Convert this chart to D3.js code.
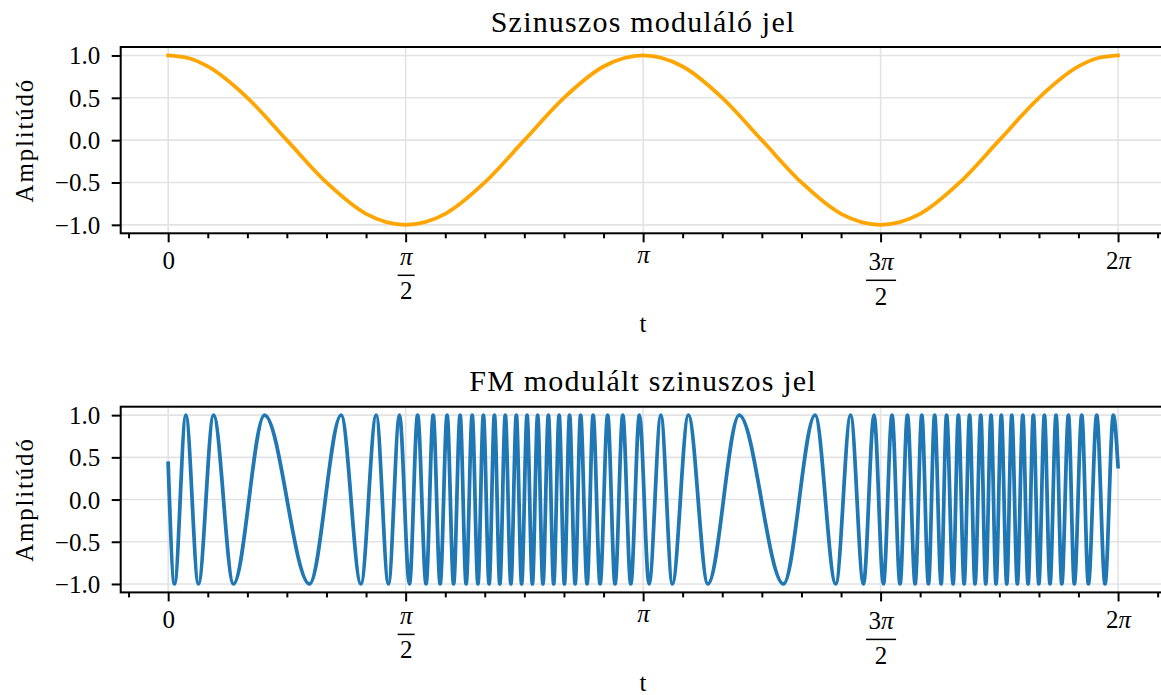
<!DOCTYPE html>
<meta charset="utf-8">
<title>FM moduláció</title>
<style>
  body { margin: 0; background: #fff; }
  svg text { font-family: "Liberation Serif", serif; fill: #000; }
</style>
<body>
<script src="https://cdn.jsdelivr.net/npm/d3@7"></script>
<script>

const width = 1161,
  height = 695;

// x axis ticks, in radians
const majorTicks = [0, 1.5708, 3.1416, 4.7124, 6.2832];
const majorLabels = [["0"], ["π", "2"], ["π"], ["3π", "2"], ["2π"]];
const minorTicks = [-0.262, 0.262, 0.524, 0.785, 1.047, 1.309, 1.833, 2.094, 2.356, 2.618, 2.880,
  3.403, 3.665, 3.927, 4.189, 4.451, 4.974, 5.236, 5.498, 5.760, 6.021, 6.545];
const yTicks = [-1.0, -0.5, 0.0, 0.5, 1.0];

// modulating signal (minor ticks, a bit denser at the ends)
const modT = [0, 0.065, 0.131, 0.262, 0.524, 0.785, 1.047, 1.309, 1.571, 1.833, 2.094, 2.356, 2.618, 2.880,
  3.142, 3.403, 3.665, 3.927, 4.189, 4.451, 4.712, 4.974, 5.236, 5.498, 5.760, 6.021, 6.152, 6.218, 6.283];
const modY = [1.0, 0.99, 0.97, 0.87, 0.5, 0.0, -0.5, -0.87, -1.0, -0.87, -0.5, 0.0, 0.5, 0.87,
  1.0, 0.87, 0.5, 0.0, -0.5, -0.87, -1.0, -0.87, -0.5, 0.0, 0.5, 0.87, 0.97, 0.99, 1.0];

// FM signal: start / end samples and the times of every peak (+1) and trough (-1)
const fmStart = [0, 0.43];
const fmEnd = [6.283, 0.39];
const fmPeakT = [0.117, 0.300, 0.637, 1.144, 1.376, 1.530, 1.650, 1.753, 1.845, 1.931,
  2.011, 2.085, 2.158, 2.230, 2.303, 2.374, 2.444, 2.515, 2.586, 2.655,
  2.728, 2.811, 2.907, 3.007, 3.117,
  3.259, 3.441, 3.777, 4.279, 4.514, 4.669, 4.788, 4.890, 4.985, 5.070,
  5.149, 5.227, 5.301, 5.375, 5.443, 5.511, 5.580, 5.653, 5.723, 5.796,
  5.873, 5.955, 6.043, 6.142, 6.252];
const fmTroughT = [0.042, 0.200, 0.432, 0.935, 1.275, 1.457, 1.596, 1.706, 1.799, 1.888,
  1.971, 2.049, 2.123, 2.194, 2.267, 2.338, 2.409, 2.479, 2.550, 2.621,
  2.692, 2.771, 2.857, 2.956, 3.060,
  3.181, 3.335, 3.570, 4.070, 4.416, 4.599, 4.731, 4.841, 4.941, 5.029,
  5.113, 5.192, 5.265, 5.337, 5.408, 5.476, 5.547, 5.617, 5.688, 5.759,
  5.833, 5.911, 5.994, 6.087, 6.197];
const fmPeakY = 1.0, fmTroughY = -1.0;

const modPoints = modT.map((t, i) => [t, modY[i]]);
const fmPoints = [fmStart]
  .concat(fmPeakT.map(t => [t, fmPeakY]))
  .concat(fmTroughT.map(t => [t, fmTroughY]))
  .concat([fmEnd])
  .sort((a, b) => a[0] - b[0]);

var svg = d3.select("body").append("svg")
    .attr("width", width)
    .attr("height", height);

svg.append("rect").attr("width", width).attr("height", height).attr("fill", "#fff");

const left = 120.7, right = 1165.5;
const x = d3.scaleLinear().domain([-0.314, 6.597]).range([left, right]);

const drawPanel = function(top, bottom, title, points, color) {
  const y = d3.scaleLinear().domain([-1.1, 1.1]).range([bottom, top]);
  const g = svg.append("g");

  // grid
  g.selectAll(".gx").data(majorTicks).enter().append("line")
      .attr("x1", d => x(d)).attr("x2", d => x(d))
      .attr("y1", top).attr("y2", bottom)
      .attr("stroke", "#e3e3e3").attr("stroke-width", 1.6);
  g.selectAll(".gy").data(yTicks).enter().append("line")
      .attr("x1", left).attr("x2", right)
      .attr("y1", d => y(d)).attr("y2", d => y(d))
      .attr("stroke", "#e3e3e3").attr("stroke-width", 1.6);

  // signal
  g.append("path").datum(points)
      .attr("d", d3.line().x(d => x(d[0])).y(d => y(d[1])).curve(d3.curveMonotoneX))
      .attr("fill", "none")
      .attr("stroke", color)
      .attr("stroke-width", 3.75)
      .attr("stroke-linecap", "square")
      .attr("stroke-linejoin", "round");

  // x axis, major + minor
  const ax = g.append("g").attr("transform", `translate(0,${bottom})`)
      .call(d3.axisBottom(x).tickValues(majorTicks).tickSize(9).tickFormat(""));
  const axMinor = g.append("g").attr("transform", `translate(0,${bottom})`)
      .call(d3.axisBottom(x).tickValues(minorTicks).tickSize(5).tickFormat(""));
  [ax, axMinor].forEach(a => {
    a.select(".domain").remove();
    a.selectAll("line").attr("stroke", "#000").attr("stroke-width", 2);
  });

  ax.selectAll(".tick").each(function(d, i) {
    const tick = d3.select(this);
    const lab = majorLabels[i];
    const piText = (sel, s) => {
      s.split("").forEach(c => {
        sel.append("tspan").style("font-style", c == "π" ? "italic" : "normal").text(c);
      });
    };
    if (lab.length == 1) {
      const t = tick.append("text")
          .attr("y", lab[0] == "π" ? 30 : 36)
          .attr("text-anchor", "middle")
          .attr("font-size", 25);
      piText(t, lab[0]);
    } else {
      const tall = lab[0].length > 1;
      const num = tick.append("text")
          .attr("y", tall ? 37 : 32)
          .attr("text-anchor", "middle")
          .attr("font-size", 25);
      piText(num, lab[0]);
      const half = tall ? 15 : 8.5;
      tick.append("line")
          .attr("x1", -half).attr("x2", half)
          .attr("y1", tall ? 47 : 42).attr("y2", tall ? 47 : 42)
          .attr("stroke", "#000").attr("stroke-width", 1.5);
      tick.append("text")
          .attr("y", tall ? 72 : 66)
          .attr("text-anchor", "middle")
          .attr("font-size", 25)
          .text(lab[1]);
    }
  });

  // y axis
  const ay = g.append("g").attr("transform", `translate(${left},0)`)
      .call(d3.axisLeft(y).tickValues(yTicks).tickSize(9).tickPadding(11.5).tickFormat(d3.format(".1f")));
  ay.select(".domain").remove();
  ay.attr("font-family", null).attr("font-size", null);
  ay.selectAll("line").attr("stroke", "#000").attr("stroke-width", 2);
  ay.selectAll("text").attr("font-size", 25).attr("dy", "0.34em");

  // spines
  g.append("rect")
      .attr("x", left).attr("y", top)
      .attr("width", right - left).attr("height", bottom - top)
      .attr("fill", "none").attr("stroke", "#000").attr("stroke-width", 2);

  // labels
  g.append("text")
      .attr("x", (left + right) / 2).attr("y", top - 15.5)
      .attr("text-anchor", "middle")
      .attr("font-size", 30)
      .attr("letter-spacing", 1.2)
      .text(title);
  g.append("text")
      .attr("x", (left + right) / 2).attr("y", bottom + 99)
      .attr("text-anchor", "middle")
      .attr("font-size", 25)
      .text("t");
  g.append("text")
      .attr("transform", `translate(32.5,${(top + bottom) / 2}) rotate(-90)`)
      .attr("text-anchor", "middle")
      .attr("font-size", 25)
      .attr("letter-spacing", 1.8)
      .text("Amplitúdó");
};

drawPanel(47, 233.3, "Szinuszos moduláló jel", modPoints, "#ffa500");
drawPanel(406.7, 592.4, "FM modulált szinuszos jel", fmPoints, "#1f77b4");

</script>
